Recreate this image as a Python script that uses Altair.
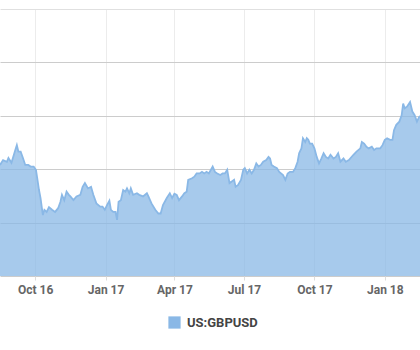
import altair as alt
import pandas as pd

dates = [
    "2016-08-16", "2016-08-20", "2016-08-25", "2016-08-27", "2016-08-31", "2016-09-05", "2016-09-07", "2016-09-09",
    "2016-09-12", "2016-09-15", "2016-09-18", "2016-09-22", "2016-09-25", "2016-09-29", "2016-10-02", "2016-10-04",
    "2016-10-06", "2016-10-08", "2016-10-11", "2016-10-13", "2016-10-16", "2016-10-19", "2016-10-23", "2016-10-27",
    "2016-10-31", "2016-11-03", "2016-11-05", "2016-11-08", "2016-11-11", "2016-11-14", "2016-11-16", "2016-11-20",
    "2016-11-24", "2016-11-29", "2016-12-02", "2016-12-05", "2016-12-09", "2016-12-13", "2016-12-16", "2016-12-20",
    "2016-12-25", "2016-12-28", "2016-12-31", "2017-01-03", "2017-01-06", "2017-01-08", "2017-01-11", "2017-01-14",
    "2017-01-16", "2017-01-18", "2017-01-21", "2017-01-24", "2017-01-27", "2017-01-29", "2017-02-01", "2017-02-03",
    "2017-02-06", "2017-02-11", "2017-02-14", "2017-02-19", "2017-02-24", "2017-02-26", "2017-03-02", "2017-03-07",
    "2017-03-11", "2017-03-14", "2017-03-17", "2017-03-22", "2017-03-26", "2017-03-29", "2017-04-01", "2017-04-04",
    "2017-04-07", "2017-04-11", "2017-04-14", "2017-04-17", "2017-04-19", "2017-04-24", "2017-04-27", "2017-04-30",
    "2017-05-04", "2017-05-07", "2017-05-10", "2017-05-13", "2017-05-16", "2017-05-21", "2017-05-24", "2017-05-27",
    "2017-05-31", "2017-06-03", "2017-06-06", "2017-06-09", "2017-06-12", "2017-06-15", "2017-06-18", "2017-06-20",
    "2017-06-23", "2017-06-27", "2017-06-30", "2017-07-02", "2017-07-05", "2017-07-08", "2017-07-11", "2017-07-14",
    "2017-07-17", "2017-07-20", "2017-07-23", "2017-07-26", "2017-07-30", "2017-08-02", "2017-08-04", "2017-08-06",
    "2017-08-09", "2017-08-13", "2017-08-16", "2017-08-21", "2017-08-24", "2017-08-27", "2017-08-30", "2017-09-03",
    "2017-09-06", "2017-09-09", "2017-09-11", "2017-09-14", "2017-09-16", "2017-09-19", "2017-09-21", "2017-09-23",
    "2017-09-25", "2017-09-28", "2017-10-01", "2017-10-04", "2017-10-07", "2017-10-10", "2017-10-13", "2017-10-16",
    "2017-10-19", "2017-10-22", "2017-10-26", "2017-10-29", "2017-11-01", "2017-11-04", "2017-11-08", "2017-11-11",
    "2017-11-15", "2017-11-21", "2017-11-25", "2017-11-30", "2017-12-02", "2017-12-05", "2017-12-08", "2017-12-11",
    "2017-12-15", "2017-12-18", "2017-12-21", "2017-12-26", "2017-12-29", "2018-01-01", "2018-01-04", "2018-01-08",
    "2018-01-11", "2018-01-13", "2018-01-16", "2018-01-20", "2018-01-23", "2018-01-25", "2018-01-27", "2018-01-30",
    "2018-02-03", "2018-02-06", "2018-02-09", "2018-02-12", "2018-02-15", "2018-02-18",
]

gbpusd = [
    1.308, 1.317, 1.314, 1.321, 1.312, 1.336, 1.345, 1.333,
    1.333, 1.321, 1.308, 1.308, 1.305, 1.305, 1.299, 1.280,
    1.261, 1.246, 1.214, 1.224, 1.220, 1.229, 1.224, 1.220,
    1.227, 1.239, 1.252, 1.242, 1.258, 1.252, 1.249, 1.242,
    1.249, 1.252, 1.267, 1.274, 1.264, 1.267, 1.252, 1.236,
    1.230, 1.230, 1.224, 1.233, 1.241, 1.224, 1.220, 1.220,
    1.205, 1.239, 1.242, 1.261, 1.258, 1.264, 1.255, 1.264,
    1.252, 1.255, 1.252, 1.249, 1.255, 1.249, 1.236, 1.224,
    1.217, 1.217, 1.233, 1.246, 1.255, 1.246, 1.254, 1.252,
    1.242, 1.249, 1.255, 1.258, 1.280, 1.283, 1.286, 1.292,
    1.292, 1.295, 1.292, 1.295, 1.292, 1.305, 1.295, 1.292,
    1.289, 1.292, 1.292, 1.299, 1.274, 1.277, 1.280, 1.267,
    1.270, 1.280, 1.299, 1.302, 1.292, 1.299, 1.292, 1.299,
    1.311, 1.305, 1.308, 1.314, 1.317, 1.323, 1.320, 1.308,
    1.305, 1.302, 1.295, 1.289, 1.280, 1.292, 1.295, 1.295,
    1.302, 1.314, 1.330, 1.339, 1.358, 1.351, 1.358, 1.355,
    1.348, 1.348, 1.339, 1.323, 1.311, 1.320, 1.330, 1.323,
    1.320, 1.327, 1.320, 1.323, 1.330, 1.314, 1.320, 1.314,
    1.317, 1.327, 1.333, 1.339, 1.351, 1.348, 1.342, 1.339,
    1.342, 1.336, 1.339, 1.339, 1.345, 1.355, 1.358, 1.355,
    1.355, 1.373, 1.383, 1.389, 1.401, 1.423, 1.414, 1.417,
    1.426, 1.408, 1.401, 1.389, 1.398, 1.401,
]

series_name = "US:GBPUSD"
x_ticks = ["2016-10-01", "2017-01-01", "2017-04-01", "2017-07-01", "2017-10-01", "2018-01-01"]
y_grid = [1.1, 1.2, 1.3, 1.4, 1.5, 1.6]

assert len(dates) == len(gbpusd)

df = pd.DataFrame({"date": dates, "value": gbpusd, "series": series_name})

tick_vals = [
    alt.DateTime(year=int(d[:4]), month=int(d[5:7]), date=int(d[8:10]), utc=True) for d in x_ticks
]

chart = (
    alt.Chart(df)
    .mark_area(
        fillOpacity=0.75,
        line={"color": "#7aaee2", "strokeWidth": 1.8},
        clip=True,
        interpolate="linear",
    )
    .encode(
        x=alt.X(
            "date:T",
            scale=alt.Scale(
                type="utc",
                domain=[
                    alt.DateTime(year=2016, month=8, date=16, utc=True),
                    alt.DateTime(year=2018, month=2, date=16, utc=True),
                ],
            ),
            axis=alt.Axis(
                title=None,
                values=tick_vals,
                labelExpr="utcFormat(datum.value, '%b %y')",
                grid=True,
                gridColor="#ececec",
                domain=False,
                tickSize=4,
                tickColor="#dddddd",
                labelFont="Roboto",
                labelFontSize=12,
                labelFontWeight="bold",
                labelColor="#666666",
                labelPadding=4,
            ),
        ),
        y=alt.Y(
            "value:Q",
            scale=alt.Scale(domain=[1.1, 1.6], zero=False, nice=False),
            axis=alt.Axis(
                title=None,
                values=y_grid,
                labels=False,
                ticks=False,
                domain=False,
                grid=True,
                gridColor={"condition": {"test": "datum.value >= 1.6", "value": "#e0e0e0"}, "value": "#cccccc"},
            ),
        ),
        color=alt.Color(
            "series:N",
            scale=alt.Scale(range=["#8ab8e6"]),
            legend=alt.Legend(
                title=None,
                orient="none",
                legendX=168,
                legendY=307,
                symbolType="square",
                symbolSize=150,
                symbolOpacity=1,
                symbolStrokeWidth=0,
                labelFont="Roboto",
                labelFontSize=13,
                labelFontWeight="bold",
                labelColor="#444444",
                labelOffset=6,
            ),
        ),
    )
    .properties(
        width=420,
        height=267,
        autosize=alt.AutoSizeParams(type="none"),
        padding={"left": 0, "top": 9, "right": 0, "bottom": 74},
        background="white",
    )
    .configure_view(stroke=None)
)

chart.save("out.html", embed_options={"renderer": "svg", "actions": False})
